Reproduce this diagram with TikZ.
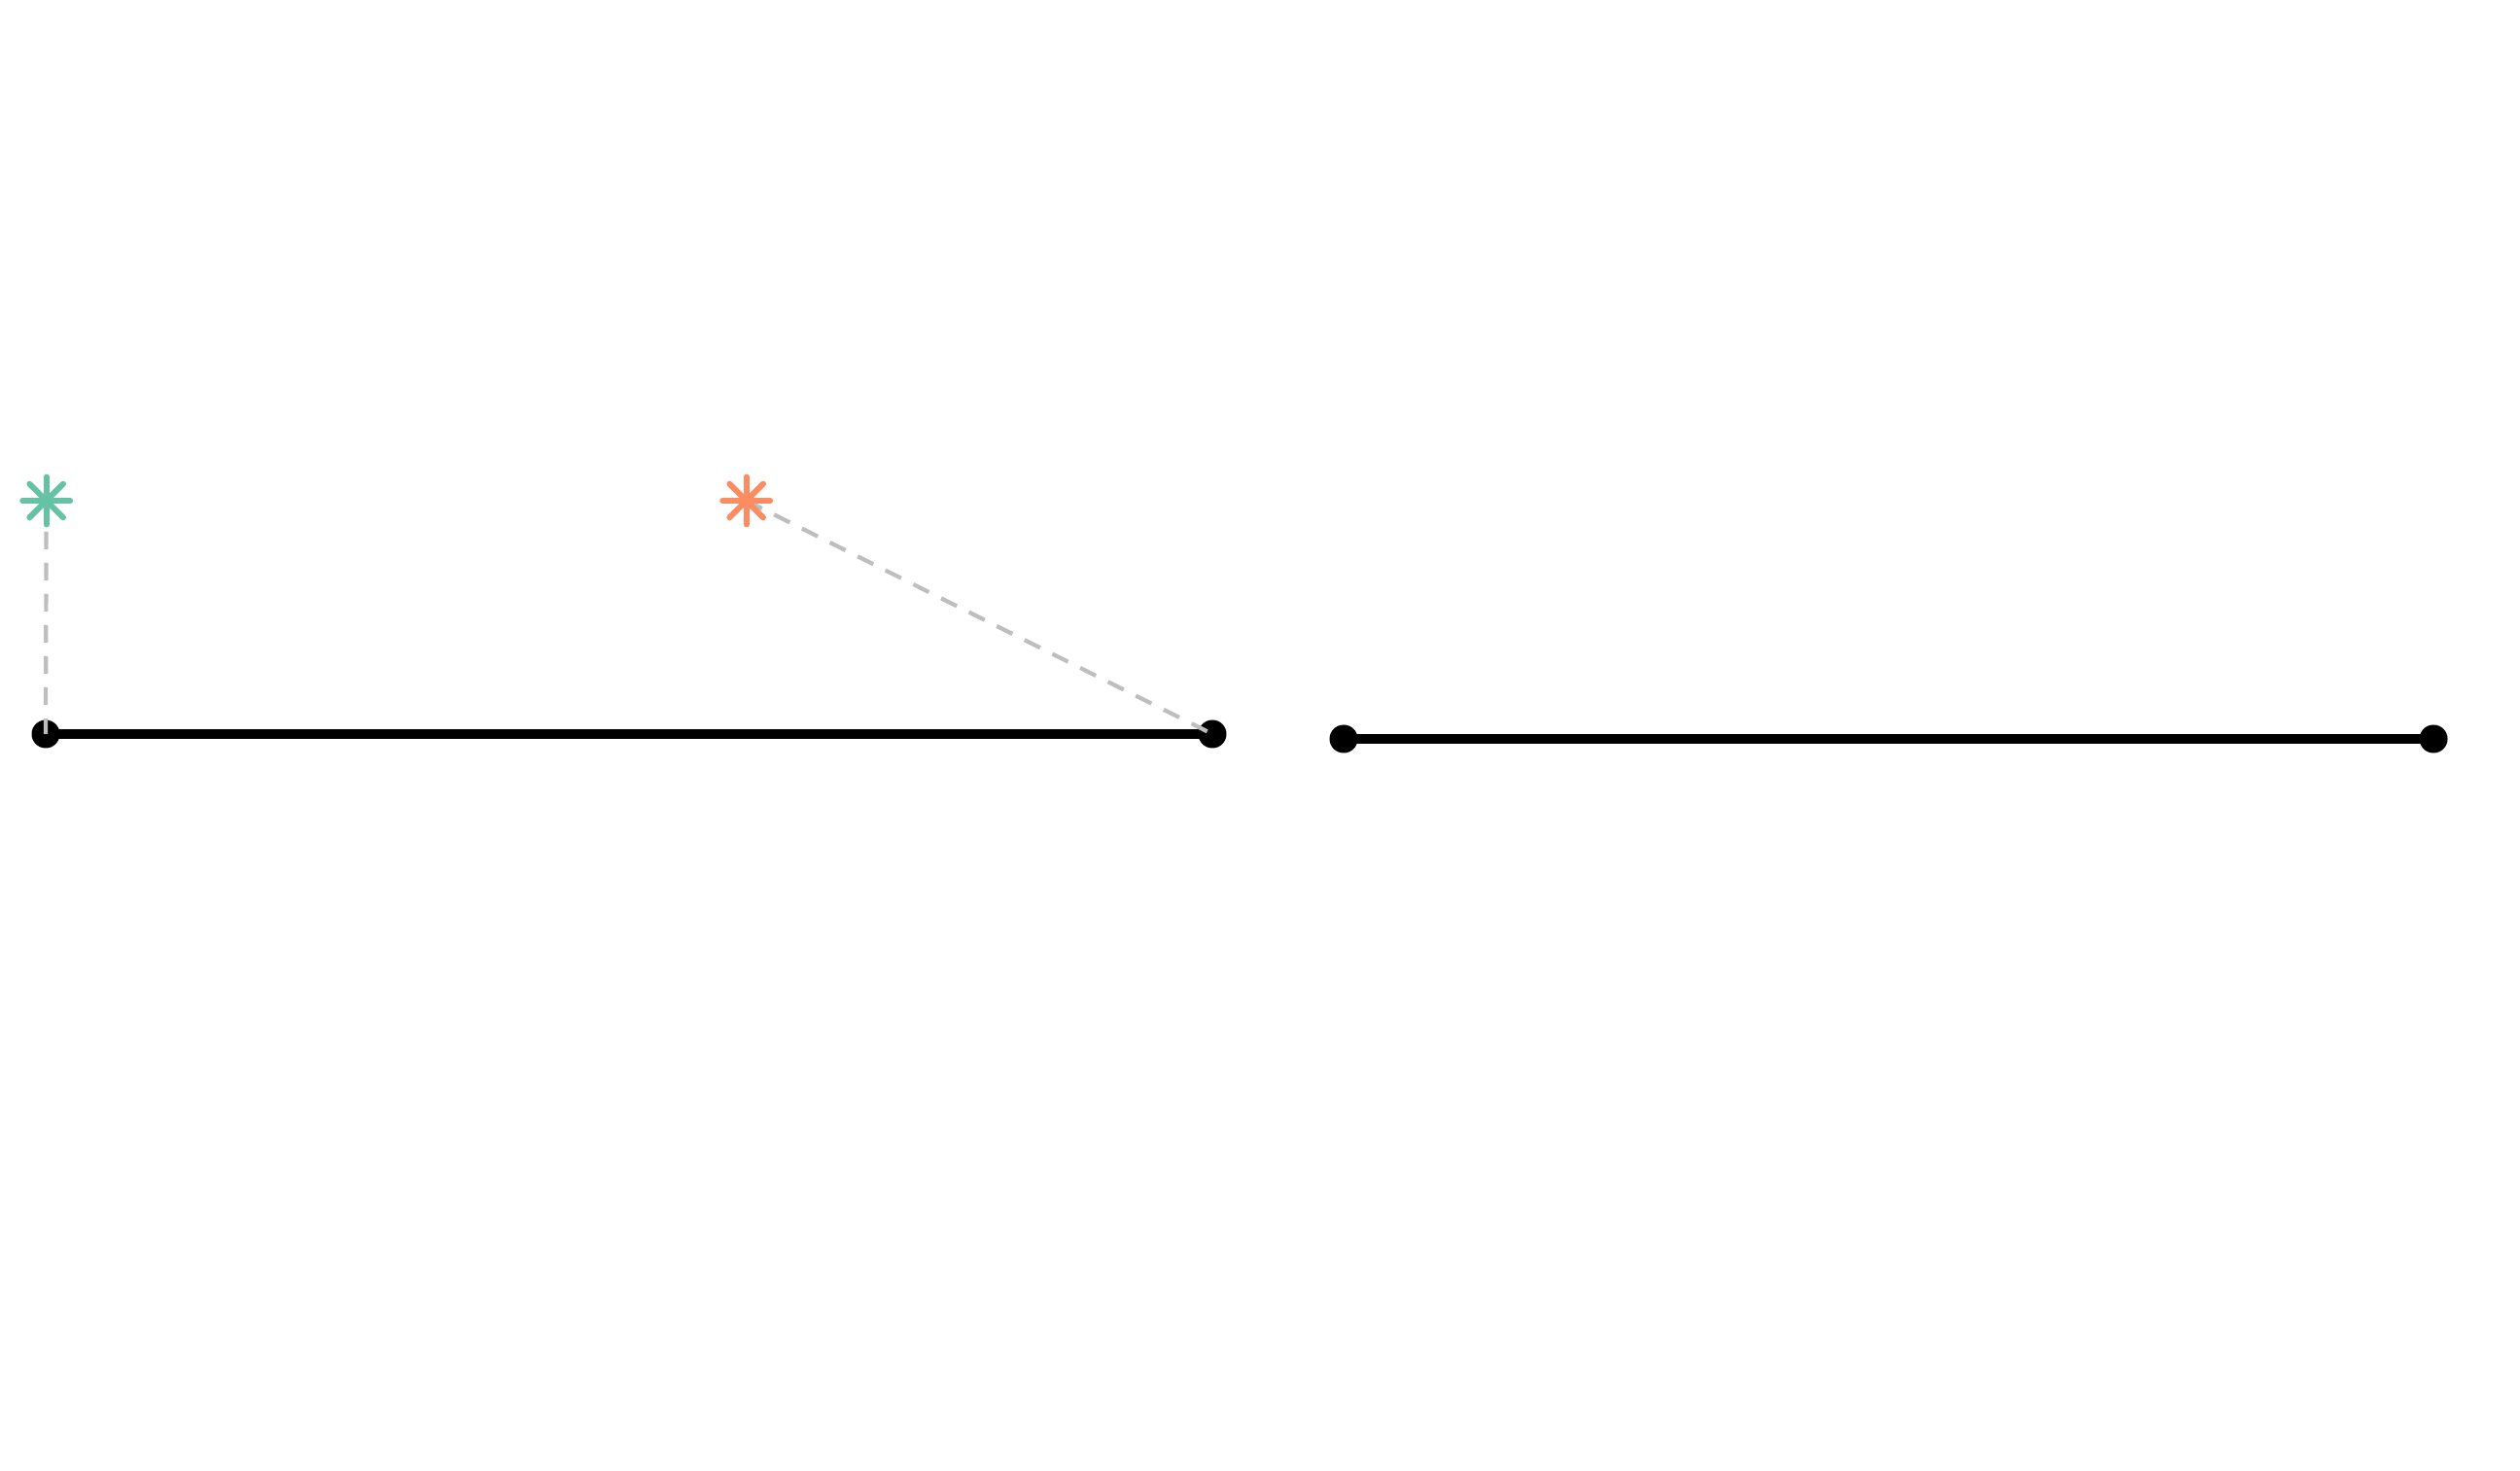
\documentclass[tikz,border=0pt]{standalone}
\usepackage{xcolor}
\usepackage{tikz}
\usetikzlibrary{positioning}
\definecolor{teal}{HTML}{66C2A5}
\definecolor{salmon}{HTML}{FC8D62}
\definecolor{guidegray}{HTML}{BEBEBE}

\begin{document}
\begin{tikzpicture}[x=1cm, y=1cm,
      seg/.style={draw=black, line width=2.8pt},
      dot/.style={circle, fill=black, inner sep=0pt, minimum size=0.29cm},
      guide/.style={draw=guidegray, line width=1.2pt, dash pattern=on 0.18cm off 0.14cm},
      ray/.style={line width=1.7pt, line cap=round}]
    \useasboundingbox (0,0) rectangle (25.92,15.12);
    % segments
    \node[dot] (a1) at (0.47,7.57) {};
    \node[dot] (a2) at (12.47,7.57) {};
    \node[dot] (b1) at (13.82,7.52) {};
    \node[dot] (b2) at (25.03,7.52) {};
    \draw[seg] (a1.center) -- (a2.center);
    \draw[seg] (b1.center) -- (b2.center);
    % points
    \coordinate (pg) at (0.477,9.97);
    \coordinate (po) at (7.677,9.97);
    \draw[guide] (pg) -- (a1.center);
    \draw[guide] (po) -- (a2.center);
    \foreach \a in {0,45,90,135} {
      \draw[ray, teal, shift={(pg)}] (\a:0.245) -- (\a+180:0.245);
      \draw[ray, salmon, shift={(po)}] (\a:0.245) -- (\a+180:0.245);
    }
  \end{tikzpicture}
\end{document}
